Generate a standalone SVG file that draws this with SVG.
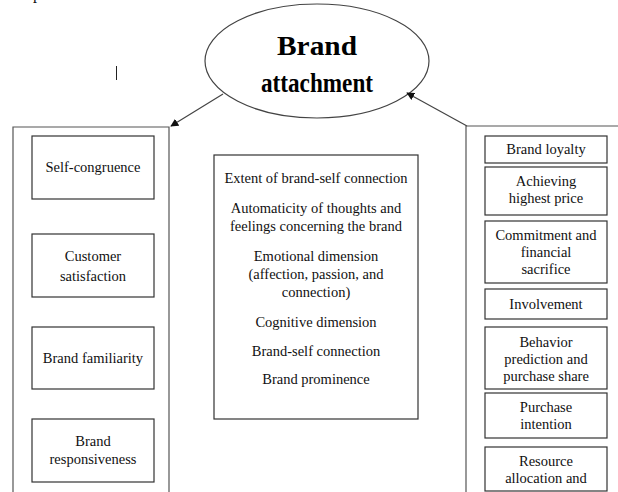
<svg xmlns="http://www.w3.org/2000/svg" width="618" height="492" viewBox="0 0 618 492">
  <style>
    .bg { fill: #ffffff; }
    .box { fill: #ffffff; stroke: #333333; stroke-width: 1.2; }
    .frame { fill: none; stroke: #555555; stroke-width: 1.2; }
    .conn { fill: none; stroke: #444444; stroke-width: 1.2; }
    .t { font-family: "Liberation Serif", "Times New Roman", serif; font-size: 14.5px; fill: #111111; text-anchor: middle; }
    .title { font-family: "Liberation Serif", "Times New Roman", serif; font-size: 28px; font-weight: bold; fill: #000000; text-anchor: middle; }
  </style>
  <defs>
    <marker id="arrowhead" viewBox="0 0 10 10" refX="9" refY="5" markerWidth="8" markerHeight="8" orient="auto" markerUnits="userSpaceOnUse">
      <path d="M0,0 L10,5 L0,10 z" fill="#111111"/>
    </marker>
  </defs>

  <rect class="bg" x="0" y="0" width="618" height="492"/>

  <!-- letter clipped by the top edge -->
  <text x="33" y="-1" style="font-family: 'Liberation Serif', serif; font-size: 16px; fill:#111;">p</text>

  <!-- text cursor mark -->
  <line x1="116.5" y1="66" x2="116.5" y2="80" stroke="#222222" stroke-width="1"/>

  <!-- central concept -->
  <g id="brand-attachment">
    <ellipse cx="317" cy="61" rx="112" ry="57" fill="#ffffff" stroke="#444444" stroke-width="1.2"/>
    <text class="title" x="317" y="55" textLength="80" lengthAdjust="spacingAndGlyphs">Brand</text>
    <text class="title" x="317" y="92" textLength="112" lengthAdjust="spacingAndGlyphs">attachment</text>
  </g>

  <!-- connectors -->
  <g id="connectors">
    <line class="conn" x1="223" y1="94" x2="171" y2="126" marker-end="url(#arrowhead)"/>
    <line class="conn" x1="467" y1="126" x2="407" y2="93" marker-end="url(#arrowhead)"/>
  </g>

  <!-- antecedents column -->
  <g id="antecedents">
    <path class="frame" d="M13,493 V127 H169 V493"/>
    <g id="self-congruence">
      <rect class="box" x="32" y="136" width="122" height="63"/>
      <text class="t" x="93" y="172">Self-congruence</text>
    </g>
    <g id="customer-satisfaction">
      <rect class="box" x="32" y="234" width="122" height="63"/>
      <text class="t" x="93" y="261">Customer</text>
      <text class="t" x="93" y="281">satisfaction</text>
    </g>
    <g id="brand-familiarity">
      <rect class="box" x="32" y="327" width="122" height="62"/>
      <text class="t" x="93" y="363">Brand familiarity</text>
    </g>
    <g id="brand-responsiveness">
      <rect class="box" x="32" y="419" width="122" height="63"/>
      <text class="t" x="93" y="446">Brand</text>
      <text class="t" x="93" y="464">responsiveness</text>
    </g>
  </g>

  <!-- dimensions -->
  <g id="dimensions">
    <rect class="box" x="214" y="155" width="204" height="264"/>
    <text class="t" x="316" y="183">Extent of brand-self connection</text>
    <text class="t" x="316" y="213">Automaticity of thoughts and</text>
    <text class="t" x="316" y="231">feelings concerning the brand</text>
    <text class="t" x="316" y="261">Emotional dimension</text>
    <text class="t" x="316" y="279">(affection, passion, and</text>
    <text class="t" x="316" y="297">connection)</text>
    <text class="t" x="316" y="327">Cognitive dimension</text>
    <text class="t" x="316" y="356">Brand-self connection</text>
    <text class="t" x="316" y="384">Brand prominence</text>
  </g>

  <!-- consequences column -->
  <g id="consequences">
    <path class="frame" d="M466,493 V126 H619"/>
    <g id="brand-loyalty">
      <rect class="box" x="485" y="136" width="122" height="27"/>
      <text class="t" x="546" y="154">Brand loyalty</text>
    </g>
    <g id="highest-price">
      <rect class="box" x="485" y="167" width="122" height="48"/>
      <text class="t" x="546" y="186">Achieving</text>
      <text class="t" x="546" y="203">highest price</text>
    </g>
    <g id="commitment">
      <rect class="box" x="485" y="221" width="122" height="62"/>
      <text class="t" x="546" y="240">Commitment and</text>
      <text class="t" x="546" y="257">financial</text>
      <text class="t" x="546" y="274">sacrifice</text>
    </g>
    <g id="involvement">
      <rect class="box" x="485" y="289" width="122" height="30"/>
      <text class="t" x="546" y="309">Involvement</text>
    </g>
    <g id="behavior-prediction">
      <rect class="box" x="485" y="327" width="122" height="62"/>
      <text class="t" x="546" y="347">Behavior</text>
      <text class="t" x="546" y="364">prediction and</text>
      <text class="t" x="546" y="381">purchase share</text>
    </g>
    <g id="purchase-intention">
      <rect class="box" x="485" y="393" width="122" height="45"/>
      <text class="t" x="546" y="412">Purchase</text>
      <text class="t" x="546" y="429">intention</text>
    </g>
    <g id="resource-allocation">
      <rect class="box" x="485" y="447" width="122" height="44"/>
      <text class="t" x="546" y="466">Resource</text>
      <text class="t" x="546" y="483">allocation and</text>
    </g>
  </g>
</svg>
